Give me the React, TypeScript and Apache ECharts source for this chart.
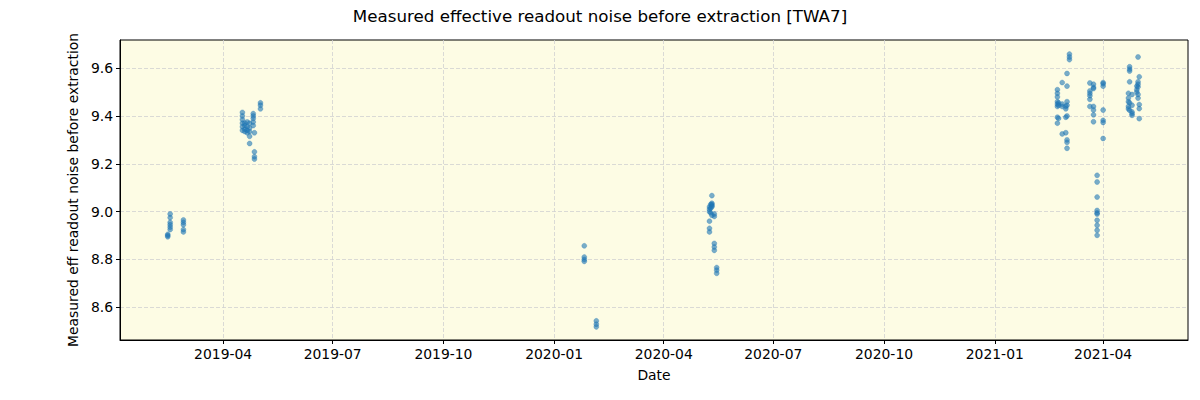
import React, { useEffect, useRef } from 'react';
import * as echarts from 'echarts';

// Observation visits (dates) and the noise values measured on each visit
const visitDates: string[] = [
  '2019-02-14', '2019-02-16', '2019-02-27',
  '2019-04-17', '2019-04-19', '2019-04-21', '2019-04-23', '2019-04-26', '2019-04-27', '2019-05-02',
  '2020-01-26', '2020-02-05',
  '2020-05-09', '2020-05-10', '2020-05-11', '2020-05-13', '2020-05-15',
  '2021-02-22', '2021-02-23', '2021-02-26', '2021-03-01', '2021-03-02', '2021-03-04',
  '2021-03-21', '2021-03-24', '2021-03-27', '2021-04-01',
  '2021-04-22', '2021-04-23', '2021-04-25', '2021-04-29', '2021-04-30', '2021-05-01',
];

const visitValues: number[][] = [
  [8.905, 8.895, 8.9],
  [8.99, 8.975, 8.955, 8.945, 8.935, 8.925],
  [8.965, 8.955, 8.945, 8.925, 8.915],
  [9.415, 9.4, 9.385, 9.37, 9.355, 9.34],
  [9.36, 9.345, 9.335, 9.37],
  [9.375, 9.355, 9.34, 9.33],
  [9.37, 9.35, 9.335, 9.315, 9.285],
  [9.41, 9.4, 9.39, 9.375, 9.36],
  [9.33, 9.25, 9.23, 9.22],
  [9.455, 9.445, 9.43],
  [8.857, 8.81, 8.8, 8.792],
  [8.543, 8.529, 8.518],
  [9.02, 9.01, 9.0, 8.96, 8.93, 8.915],
  [9.03, 9.015, 8.995],
  [9.067, 9.035, 9.025, 9.03, 9.02, 8.985],
  [8.99, 8.98, 8.867, 8.852, 8.838],
  [8.766, 8.755, 8.742],
  [9.51, 9.495, 9.48, 9.46, 9.45, 9.44, 9.395, 9.37],
  [9.455, 9.445, 9.39],
  [9.54, 9.45, 9.325, 9.44],
  [9.43, 9.395, 9.44, 9.33],
  [9.578, 9.525, 9.46, 9.445, 9.4, 9.3, 9.29, 9.265],
  [9.659, 9.647, 9.636],
  [9.538, 9.505, 9.495, 9.485, 9.47, 9.44],
  [9.533, 9.52, 9.515, 9.44, 9.425, 9.405, 9.376],
  [9.152, 9.124, 9.061, 9.005, 8.995, 8.99, 8.964, 8.943, 8.922, 8.901],
  [9.54, 9.535, 9.525, 9.425, 9.382, 9.373, 9.306],
  [9.495, 9.475, 9.46, 9.44, 9.43],
  [9.606, 9.596, 9.588, 9.543, 9.455, 9.424],
  [9.49, 9.445, 9.417, 9.403, 9.41],
  [9.51, 9.5, 9.525],
  [9.647, 9.543, 9.533, 9.522, 9.475, 9.49],
  [9.564, 9.448, 9.431, 9.389],
];

const xTickDates: string[] = [
  '2019-04-01', '2019-07-01', '2019-10-01', '2020-01-01', '2020-04-01',
  '2020-07-01', '2020-10-01', '2021-01-01', '2021-04-01',
];
const yTicks: number[] = [8.6, 8.8, 9.0, 9.2, 9.4, 9.6];

const xMin = '2019-01-05T08:00:00';
const xMax = '2021-06-10T12:00:00';
const yMin = 8.463;
const yMax = 9.718;

const FONT = 'DejaVu Sans';

const toTime = (s: string) => new Date(s.length === 10 ? s + 'T00:00:00' : s).getTime();

export default function App() {
  const ref = useRef<HTMLDivElement>(null);
  useEffect(() => {
    document.body.style.margin = '0';
    const chart = echarts.init(ref.current!, null, { renderer: 'svg' });
    const points = visitDates.flatMap((d, i) => visitValues[i].map((v) => [toTime(d), v]));
    const xTickValues = xTickDates.map(toTime);
    const pad = (n: number) => (n < 10 ? '0' + n : '' + n);
    const gridLine = { show: true, lineStyle: { color: '#d0d0d0', type: [4, 2], width: 0.8 } };
    chart.setOption({
      animation: false,
      backgroundColor: '#ffffff',
      textStyle: { fontFamily: FONT },
      title: {
        text: 'Measured effective readout noise before extraction [TWA7]',
        left: 'center',
        top: 2,
        textStyle: { fontFamily: FONT, fontSize: 16.7, fontWeight: 'normal', color: '#000' },
      },
      grid: {
        left: 120,
        right: 12,
        top: 40,
        bottom: 60,
        show: true,
        backgroundColor: '#fdfce4',
        borderColor: '#000',
        borderWidth: 1,
      },
      xAxis: {
        type: 'value',
        min: toTime(xMin),
        max: toTime(xMax),
        scale: true,
        name: 'Date',
        nameLocation: 'middle',
        nameGap: 28,
        nameTextStyle: { fontFamily: FONT, fontSize: 13.9, color: '#000' },
        axisLine: { show: true, onZero: false, lineStyle: { color: '#000', width: 1 } },
        axisTick: { show: true, length: 4, lineStyle: { color: '#000' }, customValues: xTickValues },
        axisLabel: {
          show: true,
          customValues: xTickValues,
          margin: 7,
          fontFamily: FONT,
          fontSize: 13.9,
          color: '#000',
          showMinLabel: true,
          showMaxLabel: true,
          formatter: (val: number) => {
            const d = new Date(val);
            return d.getFullYear() + '-' + pad(d.getMonth() + 1);
          },
        },
        splitLine: gridLine,
      },
      yAxis: {
        type: 'value',
        min: yMin,
        max: yMax,
        name: 'Measured eff readout noise before extraction',
        nameLocation: 'middle',
        nameGap: 38,
        nameTextStyle: { fontFamily: FONT, fontSize: 13.9, color: '#000' },
        axisLine: { show: true, onZero: false, lineStyle: { color: '#000', width: 1 } },
        axisTick: { show: true, length: 4, lineStyle: { color: '#000' }, customValues: yTicks },
        axisLabel: {
          show: true,
          customValues: yTicks,
          margin: 7,
          fontFamily: FONT,
          fontSize: 13.9,
          color: '#000',
          formatter: (val: number) => val.toFixed(1),
        },
        splitLine: gridLine,
      },
      series: [
        {
          type: 'scatter',
          data: points,
          symbol: 'circle',
          symbolSize: 5,
          itemStyle: { color: '#1f77b4', opacity: 0.6, borderColor: '#1f77b4', borderWidth: 0.5 },
        },
      ],
    });
    return () => chart.dispose();
  }, []);
  return <div ref={ref} style={{ width: 1200, height: 400 }} />;
}
